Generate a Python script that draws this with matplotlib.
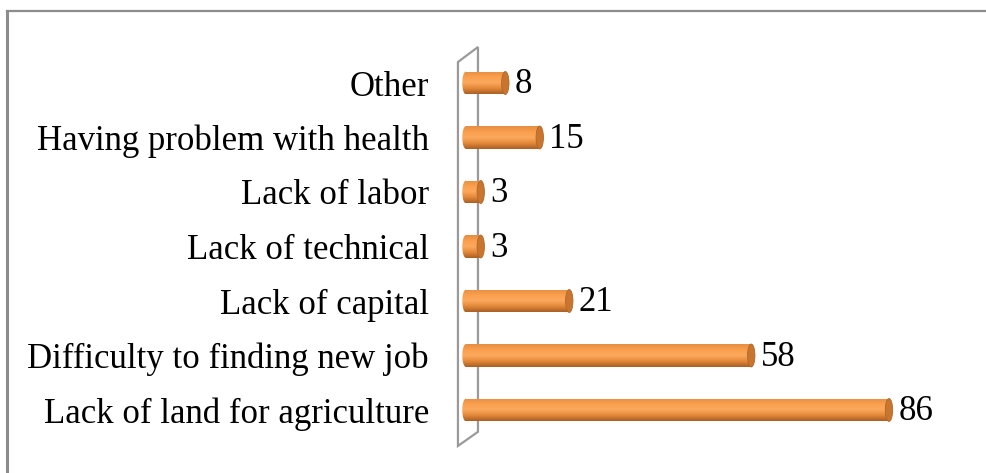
import numpy as np
import matplotlib.pyplot as plt
from matplotlib.patches import Ellipse, Polygon, Rectangle
from matplotlib.colors import LinearSegmentedColormap

# Data
categories = ['Lack of land for agriculture', 'Difficulty to finding new job', 'Lack of capital',
              'Lack of technical', 'Lack of labor', 'Having problem with health', 'Other']
values = [86, 58, 21, 3, 3, 15, 8]

plt.rcParams['font.family'] = ['Liberation Serif', 'DejaVu Serif']

fig = plt.figure(figsize=(9.87, 4.73), dpi=100)

# outer frame (left and top only)
fig.add_artist(plt.Line2D([7 / 987, 7 / 987], [0, 1 - 11 / 473], color='#8c8c8c', lw=2.2))
fig.add_artist(plt.Line2D([7 / 987, 1], [1 - 11 / 473, 1 - 11 / 473], color='#8c8c8c', lw=1.6))

ax = fig.add_axes([440 / 987, 23 / 473, 507 / 987, 410 / 473])
ax.set_xlim(-5.28, 97.8)
ax.set_ylim(-0.734, 6.789)
for s in ax.spines.values():
    s.set_visible(False)
ax.set_xticks([])
ax.set_yticks(range(len(categories)))
ax.set_yticklabels(categories, fontsize=25)
ax.tick_params(axis='y', length=0, pad=8)

# side wall
wall = Polygon([[-1.63, -0.66], [-1.63, 6.385], [2.44, 6.66], [2.44, -0.40]],
               closed=True, fill=False, edgecolor='#9a9a9a', lw=1.6, zorder=1)
ax.add_patch(wall)

cmap = LinearSegmentedColormap.from_list('cyl', ['#a95f27', '#e38838', '#fca95e', '#fa9f4e', '#e58d42'])
grad = np.linspace(0, 1, 64).reshape(-1, 1)
h = 0.42
cap_w = 1.5

for i, v in enumerate(values):
    y0 = i - h / 2
    body = Rectangle((0, y0), v, h, transform=ax.transData)
    im = ax.imshow(grad, extent=(0, v, y0, y0 + h), aspect='auto', cmap=cmap,
                   origin='lower', zorder=3, interpolation='bicubic')
    im.set_clip_path(body)
    # left rounded end
    left = Ellipse((0, i), cap_w, h, transform=ax.transData)
    im2 = ax.imshow(grad, extent=(-cap_w / 2, 0.01, y0, y0 + h), aspect='auto', cmap=cmap,
                    origin='lower', zorder=3, interpolation='bicubic')
    im2.set_clip_path(left)
    # right end cap
    ax.add_patch(Ellipse((v, i), cap_w, h, facecolor='#c8762f', edgecolor='#b36628', lw=0.6, zorder=4))
    ax.text(v + cap_w / 2 + 1.2, i - 0.03, str(v), va='center', ha='left', fontsize=25)

fig.savefig('out.png', dpi=100)
